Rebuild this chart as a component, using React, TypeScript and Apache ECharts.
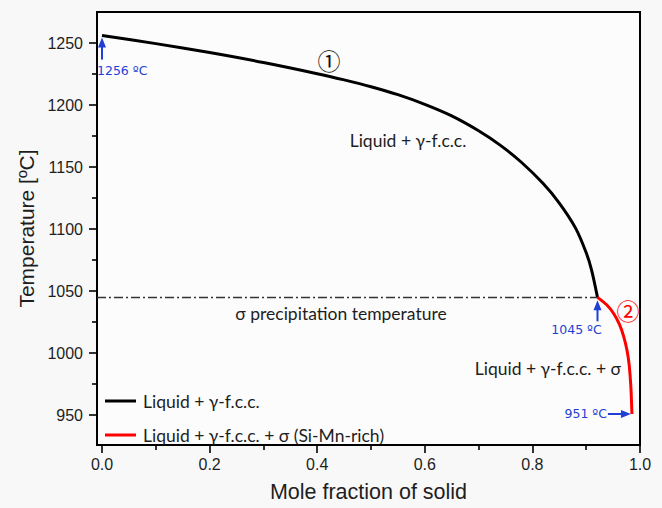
import React, { useEffect, useRef } from "react";
import * as echarts from "echarts";

// Solidification path: liquid + γ-f.c.c. region
const solidFractionGamma = [0, 0.1, 0.2, 0.3, 0.4, 0.45, 0.5, 0.55, 0.6, 0.65, 0.7, 0.74, 0.78, 0.82, 0.85, 0.88, 0.9, 0.91, 0.921];
const temperatureGamma = [1256, 1249.5, 1242.3, 1234.3, 1225.3, 1220.3, 1214.8, 1208.4, 1200.6, 1191.3, 1179.3, 1167.7, 1153.7, 1136.7, 1121, 1101, 1081, 1067, 1045];

// Solidification path: liquid + γ-f.c.c. + σ (Si-Mn-rich) region
const solidFractionSigma = [0.921, 0.938, 0.951, 0.962, 0.97, 0.976, 0.98, 0.983, 0.985];
const temperatureSigma = [1045, 1039, 1032, 1023, 1013, 1002, 990, 973, 951];

const sigmaTemperature = 1045;
const liquidusTemperature = 1256;
const finalTemperature = 951;

const xMajorTicks = [0, 0.2, 0.4, 0.6, 0.8, 1.0];
const xMinorTicks = [0.1, 0.3, 0.5, 0.7, 0.9];
const yMajorTicks = [950, 1000, 1050, 1100, 1150, 1200, 1250];
const yMinorTicks = [975, 1025, 1075, 1125, 1175, 1225];

const legendNames = ["Liquid + γ-f.c.c.", "Liquid + γ-f.c.c. + σ (Si-Mn-rich)"];

const X_MIN = -0.0093;
const X_MAX = 1.0;
const Y_MIN = 926;
const Y_MAX = 1275;

const AXIS_FONT = "'Liberation Sans', Arial, sans-serif";
const TEXT_FONT = "Lato, 'Open Sans', sans-serif";
const NOTE_FONT = "'DejaVu Sans', Verdana, sans-serif";
const BLUE = "#1f3fd6";
const INK = "#1e1e1e";

function pairs(xs: number[], ys: number[]) {
  return xs.map((x, i) => [x, ys[i]]);
}

function axisBase(isX: boolean, ticks: number[], major: boolean) {
  return {
    type: "value",
    position: isX ? "bottom" : "left",
    min: isX ? X_MIN : Y_MIN,
    max: isX ? X_MAX : Y_MAX,
    axisLine: { show: major, onZero: false, lineStyle: { color: "#000", width: 2 } },
    axisTick: {
      show: true,
      customValues: ticks,
      length: major ? 8 : 5,
      lineStyle: { color: "#000", width: 1.6 },
    },
    axisLabel: major
      ? {
          show: true,
          customValues: ticks,
          color: INK,
          fontFamily: AXIS_FONT,
          fontSize: 16,
          margin: isX ? 11 : 14,
          formatter: (v: number) => (isX ? v.toFixed(1) : String(v)),
        }
      : { show: false },
    splitLine: { show: false },
  };
}

export default function App() {
  const ref = useRef<HTMLDivElement>(null);

  useEffect(() => {
    const chart = echarts.init(ref.current!, null, { renderer: "svg" });

    const xMain: any = axisBase(true, xMajorTicks, true);
    xMain.name = "Mole fraction of solid";
    xMain.nameLocation = "middle";
    xMain.nameGap = 36;
    xMain.nameTextStyle = { fontFamily: AXIS_FONT, fontSize: 21.5, color: INK };

    const yMain: any = axisBase(false, yMajorTicks, true);
    yMain.name = "Temperature [ºC]";
    yMain.nameLocation = "middle";
    yMain.nameGap = 57;
    yMain.nameTextStyle = { fontFamily: AXIS_FONT, fontSize: 21, color: INK };

    chart.setOption({
      animation: false,
      backgroundColor: "#f8f8f8",
      grid: {
        left: 97,
        right: 22,
        top: 12,
        bottom: 62,
        show: true,
        borderColor: "#000",
        borderWidth: 2,
        backgroundColor: "#fcfcfc",
      },
      xAxis: [xMain, axisBase(true, xMinorTicks, false)],
      yAxis: [yMain, axisBase(false, yMinorTicks, false)],
      legend: {
        orient: "vertical",
        left: 100,
        top: 386,
        itemWidth: 31,
        itemHeight: 3,
        itemGap: 14,
        icon: "rect",
        data: legendNames,
        textStyle: { fontFamily: TEXT_FONT, fontSize: 17.5, color: INK, lineHeight: 20, padding: [0, 0, 0, 2] },
      },
      series: [
        {
          name: legendNames[0],
          type: "line",
          data: pairs(solidFractionGamma, temperatureGamma),
          showSymbol: false,
          smooth: 0.3,
          color: "#000",
          lineStyle: { color: "#000", width: 3 },
          z: 3,
          markLine: {
            silent: true,
            symbol: ["none", "none"],
            label: { show: false },
            lineStyle: { color: "#333", width: 1.3, type: [9, 3, 2, 3] },
            data: [[{ coord: [X_MIN, sigmaTemperature] }, { coord: [solidFractionSigma[0], sigmaTemperature] }]],
          },
        },
        {
          name: legendNames[1],
          type: "line",
          data: pairs(solidFractionSigma, temperatureSigma),
          showSymbol: false,
          smooth: 0.3,
          color: "#ff0000",
          lineStyle: { color: "#ff0000", width: 3 },
          z: 3,
        },
      ],
    });

    const px = (x: number, y: number) =>
      chart.convertToPixel({ xAxisIndex: 0, yAxisIndex: 0 }, [x, y]) as number[];

    const arrowStyle = { stroke: BLUE, lineWidth: 2 };
    const upArrow = (tx: number, ty: number, len: number) => [
      { type: "line", shape: { x1: tx, y1: ty + 8, x2: tx, y2: ty + len }, style: arrowStyle, z: 10 },
      {
        type: "polygon",
        shape: { points: [[tx, ty], [tx - 4, ty + 10], [tx + 4, ty + 10]] },
        style: { fill: BLUE },
        z: 10,
      },
    ];
    const rightArrow = (tx: number, ty: number, len: number) => [
      { type: "line", shape: { x1: tx - len, y1: ty, x2: tx - 8, y2: ty }, style: arrowStyle, z: 10 },
      {
        type: "polygon",
        shape: { points: [[tx, ty], [tx - 10, ty - 4], [tx - 10, ty + 4]] },
        style: { fill: BLUE },
        z: 10,
      },
    ];
    const note = (text: string, x: number, y: number, align: string) => ({
      type: "text",
      x,
      y,
      z: 10,
      style: { text, fill: BLUE, fontFamily: NOTE_FONT, fontSize: 12.5, align, verticalAlign: "middle" },
    });
    const label = (text: string, x: number, y: number, align: string, fill = INK, size = 17.5, font = TEXT_FONT) => ({
      type: "text",
      x,
      y,
      z: 10,
      style: { text, fill, fontFamily: font, fontSize: size, align, verticalAlign: "middle" },
    });

    const pStart = px(solidFractionGamma[0], liquidusTemperature);
    const pSigma = px(solidFractionSigma[0], sigmaTemperature);
    const pEnd = px(solidFractionSigma[solidFractionSigma.length - 1], finalTemperature);

    chart.setOption({
      graphic: [
        ...upArrow(pStart[0], pStart[1] + 2, 22),
        note(`${liquidusTemperature} ºC`, pStart[0] - 5, pStart[1] + 35, "left"),
        ...upArrow(pSigma[0], pSigma[1] + 3, 21),
        note(`${sigmaTemperature} ºC`, pSigma[0] - 21, pSigma[1] + 32, "center"),
        ...rightArrow(pEnd[0] - 1, pEnd[1], 23),
        note(`${finalTemperature} ºC`, pEnd[0] - 25, pEnd[1], "right"),
        label("Liquid + γ-f.c.c.", 408, 140, "center"),
        label("σ precipitation temperature", 341, 313, "center"),
        label("Liquid + γ-f.c.c. + σ", 621, 368, "right"),
        label("①", 329, 60, "center", "#111", 23, "'Noto Sans CJK SC', sans-serif"),
        label("②", 628, 310, "center", "#ff0000", 23, "'Noto Sans CJK SC', sans-serif"),
      ],
    });

    return () => chart.dispose();
  }, []);

  return (
    <div
      ref={ref}
      style={{ position: "fixed", left: 0, top: 0, width: 662, height: 508 }}
    />
  );
}
